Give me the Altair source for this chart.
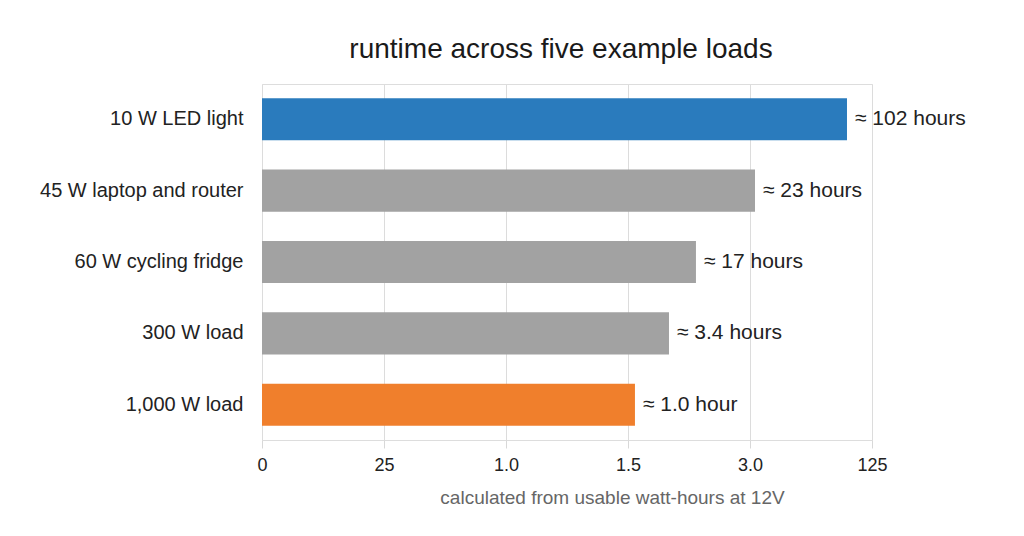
import altair as alt
import pandas as pd

loads = ["10 W LED light", "45 W laptop and router", "60 W cycling fridge", "300 W load", "1,000 W load"]
bar_pos = [4.795, 4.041, 3.557, 3.336, 3.057]  # bar end, in axis-position units
labels = ["≈ 102 hours", "≈ 23 hours", "≈ 17 hours", "≈ 3.4 hours", "≈ 1.0 hour"]
colors = ["#2a7bbd", "#a2a2a2", "#a2a2a2", "#a2a2a2", "#f07f2c"]
tick_pos = [0, 1, 2, 3, 4, 5]
tick_labels = ["0", "25", "1.0", "1.5", "3.0", "125"]

df = pd.DataFrame({"load": loads, "pos": bar_pos, "label": labels, "color": colors})

label_expr = "[" + ",".join(f"'{t}'" for t in tick_labels) + "][datum.value]"

x = alt.X("pos:Q",
          scale=alt.Scale(domain=[0, 5], nice=False, zero=True),
          axis=alt.Axis(values=tick_pos, labelExpr=label_expr,
                        title="calculated from usable watt-hours at 12V",
                        titleFont="Liberation Sans", titleFontSize=19, titleFontWeight="normal",
                        titleColor="#666666", titleX=350, titleAnchor="start", titleAlign="center",
                        titlePadding=14,
                        labelFont="Liberation Sans", labelFontSize=18, labelColor="#222222",
                        labelFlush=False, labelOverlap=False,
                        labelPadding=8, tickSize=8, tickColor="#d8d8d8",
                        grid=True, gridColor="#dcdcdc", domain=False))
y = alt.Y("load:N", sort=loads,
          scale=alt.Scale(paddingInner=0.41, paddingOuter=0.2),
          axis=alt.Axis(title=None, ticks=False, domain=False, labelPadding=19, labelLimit=400,
                        labelFont="Liberation Sans", labelFontSize=20, labelColor="#222222"))

bars = alt.Chart(df).mark_bar().encode(x=x, y=y, color=alt.Color("color:N", scale=None))
text = alt.Chart(df).mark_text(align="left", baseline="middle", dx=8,
                               font="Liberation Sans", fontSize=21, color="#222222").encode(
    x="pos:Q", y=alt.Y("load:N", sort=loads), text="label:N")

chart = (bars + text).properties(
    width=610, height=356,
    title=alt.TitleParams("runtime across five example loads", font="Liberation Sans",
                          fontSize=28, fontWeight="normal", color="#1a1a1a",
                          anchor="middle", dx=-6, offset=20),
    autosize=alt.AutoSizeParams(type="none"),
    padding={"left": 254, "top": 76, "right": 130, "bottom": 80},
).configure_view(stroke=None).configure(background="white")

chart.save("out.html", embed_options={"renderer": "svg", "actions": False})
